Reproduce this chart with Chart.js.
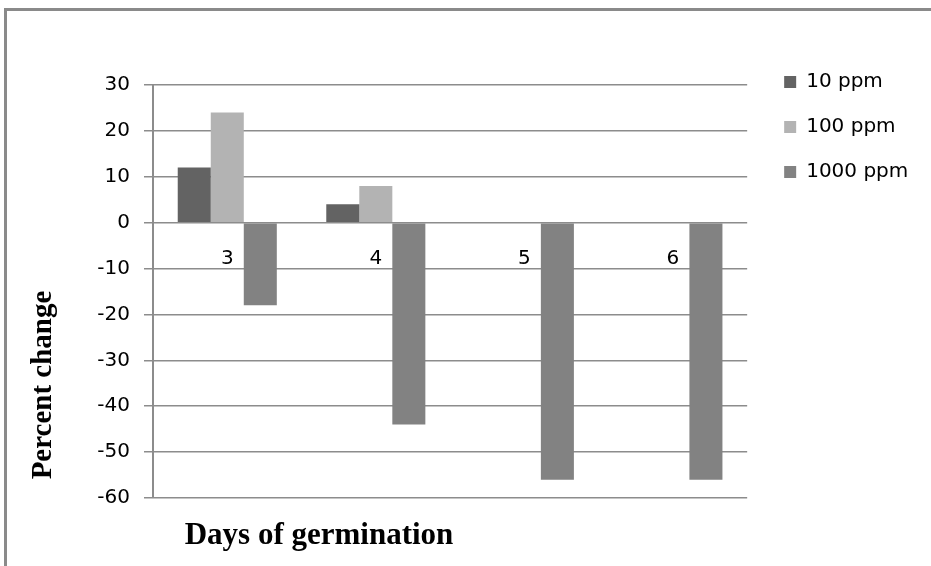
<!DOCTYPE html>
<html>
<head>
<meta charset="utf-8">
<script src="https://cdn.jsdelivr.net/npm/chart.js@4"></script>
<style>
  body { margin: 0; background: #fff; }
  canvas { display: block; }
</style>
</head>
<body>
<canvas id="germChart" width="931" height="566"></canvas>
<script>
const days = ['3', '4', '5', '6'];
const ppm10 = [12, 4, 0, 0];
const ppm100 = [24, 8, 0, 0];
const ppm1000 = [-18, -44, -56, -56];
const seriesNames = ['10 ppm', '100 ppm', '1000 ppm'];
const yMin = -60;
const yMax = 30;
const yStep = 10;

const gridGray = '#8c8c8c';

// frame round the figure + the two bold axis titles
const extrasPlugin = {
    id: 'extras',
    afterDraw: function (chart) {
        const ctx = chart.ctx;
        ctx.save();
        ctx.strokeStyle = '#8a8a8a';
        ctx.lineWidth = 3;
        ctx.beginPath();
        ctx.moveTo(5.5, 600);
        ctx.lineTo(5.5, 9.5);
        ctx.lineTo(960, 9.5);
        ctx.stroke();

        ctx.fillStyle = '#000';
        ctx.font = 'bold 31px "Liberation Serif"';
        ctx.textAlign = 'center';
        ctx.textBaseline = 'alphabetic';
        ctx.fillText('Days of germination', 319, 544);

        ctx.translate(44, 385);
        ctx.rotate(-Math.PI / 2);
        ctx.font = 'bold 29px "Liberation Serif"';
        ctx.textBaseline = 'middle';
        ctx.fillText('Percent change', 0, 0);
        ctx.restore();
    }
};

const ctx = document.getElementById('germChart').getContext('2d');
const chart = new Chart(ctx, {
    type: 'bar',
    data: {
        labels: days,
        datasets: [
            { label: seriesNames[0], data: ppm10, backgroundColor: '#636363' },
            { label: seriesNames[1], data: ppm100, backgroundColor: '#b3b3b3' },
            { label: seriesNames[2], data: ppm1000, backgroundColor: '#828282' },
        ],
    },
    options: {
        responsive: false,
        animation: false,
        events: [],
        layout: { padding: { top: 47, right: 20, bottom: 68, left: 0 } },
        datasets: {
            bar: { categoryPercentage: 0.667, barPercentage: 1.0, borderWidth: 0 },
        },
        scales: {
            x: {
                position: { y: 0 },
                grid: { display: false, drawTicks: false },
                border: { display: false },
                ticks: {
                    color: '#000',
                    padding: 24,
                    font: { family: '"DejaVu Sans"', size: 20 },
                },
            },
            y: {
                min: yMin,
                max: yMax,
                grid: { color: gridGray, lineWidth: 1.5, tickLength: 9 },
                border: { color: gridGray, width: 2 },
                ticks: {
                    stepSize: yStep,
                    color: '#000',
                    padding: 14,
                    font: { family: '"DejaVu Sans"', size: 20 },
                },
                afterFit: function (scale) { scale.width = 153; },
            },
            // empty boxes that only hold space above / right of the plot
            gapTop: {
                type: 'linear',
                position: 'top',
                ticks: { display: false },
                grid: { display: false },
                border: { display: false },
                afterFit: function (scale) { scale.height = 38; },
            },
            gapRight: {
                type: 'linear',
                position: 'right',
                ticks: { display: false },
                grid: { display: false },
                border: { display: false },
                afterFit: function (scale) { scale.width = 12; },
            },
        },
        plugins: {
            tooltip: { enabled: false },
            legend: {
                position: 'right',
                align: 'start',
                labels: {
                    boxWidth: 12,
                    boxHeight: 12,
                    padding: 25,
                    color: '#000',
                    font: { family: '"DejaVu Sans"', size: 20 },
                },
            },
        },
    },
    plugins: [extrasPlugin],
});
</script>
</body>
</html>
